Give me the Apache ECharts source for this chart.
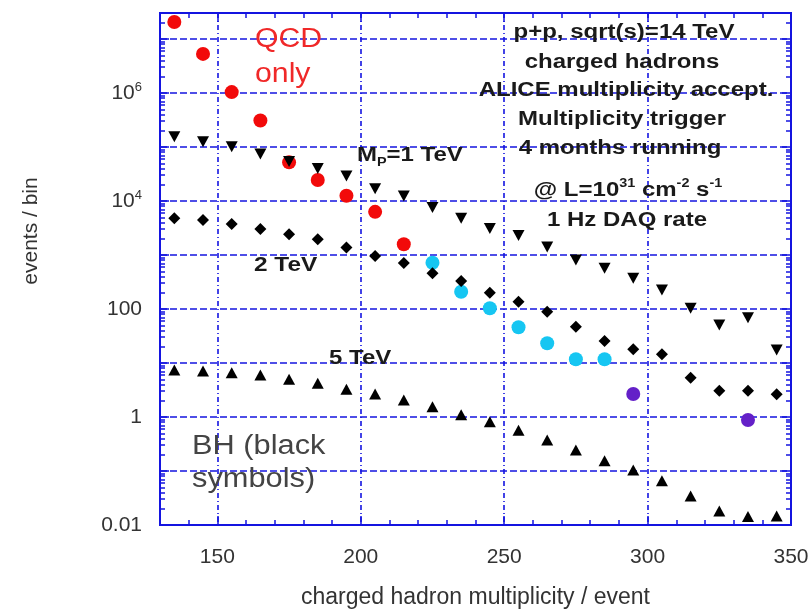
<!DOCTYPE html>
<html>
<head>
<meta charset="utf-8">
<title>events / bin vs charged hadron multiplicity</title>
<script src="https://cdn.jsdelivr.net/npm/echarts@6/dist/echarts.min.js"></script>
<style>
  html, body { margin: 0; padding: 0; background: #fff; }
  #chart { width: 811px; height: 611px; }
</style>
</head>
<body>
<div id="chart"></div>
<script>
// Bin centres of the charged hadron multiplicity histogram
const multiplicity = [135, 145, 155, 165, 175, 185, 195, 205, 215, 225, 235,
                      245, 255, 265, 275, 285, 295, 305, 315, 325, 335, 345];

// QCD background, split by colour
const qcdRedX = [135, 145, 155, 165, 175, 185, 195, 205, 215];
const qcdRed = [2.07e7, 5.3e6, 1.04e6, 3.1e5, 5.2e4, 2.45e4, 1.25e4, 6.3e3, 1.58e3];
const qcdCyanX = [225, 235, 245, 255, 265, 275, 285];
const qcdCyan = [719, 209, 103, 45.8, 23.2, 11.7, 11.7];
const qcdPurpleX = [295, 335];
const qcdPurple = [2.67, 0.88];

// Black hole signal for three Planck masses (black symbols)
const bh1TeV = [1.55e5, 1.25e5, 1.01e5, 7.4e4, 5.4e4, 4.0e4, 2.9e4, 1.69e4, 1.24e4, 7.6e3, 4.8e3,
                3.1e3, 2.3e3, 1.4e3, 807, 568, 371, 225, 103, 50.6, 69, 17.4];
const bh2TeV = [4.8e3, 4.45e3, 3.75e3, 3.03e3, 2.42e3, 1.95e3, 1.37e3, 957, 711, 458, 330,
                200, 136, 89, 47, 25.5, 17.9, 14.5, 5.35, 3.07, 3.07, 2.63];
const bh5TeV = [7.4, 7.1, 6.6, 6.0, 5.0, 4.2, 3.26, 2.67, 2.07, 1.55, 1.10,
                0.82, 0.57, 0.375, 0.245, 0.155, 0.104, 0.066, 0.0344, 0.0182, 0.0143, 0.0147];

// Axis ticks
const xMajorTicks = [150, 200, 250, 300];
const xTickLabels = [150, 200, 250, 300, 350];
const xMinorTicks = [];
for (let v = 130; v <= 350; v += 10) xMinorTicks.push(v);
const yMin = 0.01, yMax = 3.03e7;
const yMinorTicks = [];
for (let k = -2; k <= 7; k++) {
  for (let m = 2; m <= 9; m++) {
    const v = m * Math.pow(10, k);
    if (v < yMax) yMinorTicks.push(v);
  }
}

const FONT = 'Liberation Sans, Arial, sans-serif';
const BLUE = '#1414e0';
const TEXT = '#333333';
const INK = '#1a1a1a';

const pairs = (xs, ys) => xs.map((x, i) => [x, ys[i]]);

function yLabel(value) {
  const e = Math.log10(value);
  const r = Math.round(e);
  if (Math.abs(e - r) > 1e-6 || r % 2 !== 0) return '';
  if (r >= 4) return '{n|10}{s|' + r + '}';
  if (r === 2) return '100';
  if (r === 0) return '1';
  if (r === -2) return '0.01';
  return '';
}

const tickLine = { color: BLUE, width: 1.5 };

const xBase = { type: 'value', min: 130, max: 350, gridIndex: 0 };
const yBase = { type: 'log', logBase: 10, min: yMin, max: yMax, gridIndex: 0 };

// Plain text annotation placed inside the plot
function note(x, y, text, size, opts) {
  opts = opts || {};
  return {
    type: 'text', x: x, y: y, scaleX: opts.scaleX || 1, z: 50,
    style: Object.assign({
      text: text, fontSize: size, fontFamily: FONT, fontWeight: opts.bold ? 'bold' : 'normal',
      fill: opts.color || INK, align: opts.align || 'left', verticalAlign: 'middle'
    }, opts.rich ? { rich: opts.rich } : {})
  };
}

const boldRich = (size, subSize, pad) => ({
  a: { fontSize: size, fontWeight: 'bold', fontFamily: FONT, fill: INK },
  s: { fontSize: subSize, fontWeight: 'bold', fontFamily: FONT, fill: INK, padding: pad }
});

const option = {
  animation: false,
  backgroundColor: '#ffffff',
  grid: { left: 160, right: 20, top: 13, bottom: 86, show: true, outerBoundsMode: 'none',
          containLabel: false, borderColor: BLUE, borderWidth: 2, backgroundColor: 'transparent' },
  xAxis: [
    Object.assign({}, xBase, {
      position: 'bottom',
      axisLine: { show: true, lineStyle: { color: BLUE, width: 2 } },
      axisTick: { show: true, inside: true, length: 9, lineStyle: tickLine, customValues: xMajorTicks },
      axisLabel: { show: true, customValues: xTickLabels, margin: 22, fontSize: 21,
                   fontFamily: FONT, color: TEXT },
      splitLine: { show: true, lineStyle: { color: BLUE, width: 1.6, type: [5, 3, 1, 3] } },
      name: 'charged hadron multiplicity / event', nameLocation: 'middle', nameGap: 61,
      nameTextStyle: { fontSize: 23, fontFamily: FONT, color: TEXT }
    }),
    Object.assign({}, xBase, {
      position: 'bottom',
      axisLine: { show: false },
      axisTick: { show: true, inside: true, length: 5, lineStyle: tickLine, customValues: xMinorTicks },
      axisLabel: { show: false }, splitLine: { show: false }
    }),
    Object.assign({}, xBase, {
      position: 'top',
      axisLine: { show: true, lineStyle: { color: BLUE, width: 2 } },
      axisTick: { show: true, inside: true, length: 9, lineStyle: tickLine, customValues: xMajorTicks },
      axisLabel: { show: false }, splitLine: { show: false }
    }),
    Object.assign({}, xBase, {
      position: 'top',
      axisLine: { show: false },
      axisTick: { show: true, inside: true, length: 5, lineStyle: tickLine, customValues: xMinorTicks },
      axisLabel: { show: false }, splitLine: { show: false }
    })
  ],
  yAxis: [
    Object.assign({}, yBase, {
      position: 'left',
      axisLine: { show: true, lineStyle: { color: BLUE, width: 2 } },
      axisTick: { show: true, inside: true, length: 9, lineStyle: tickLine },
      axisLabel: { show: true, margin: 18, fontSize: 21, fontFamily: FONT, color: TEXT,
                   formatter: yLabel,
                   rich: { n: { fontSize: 21, fontFamily: FONT, color: TEXT },
                           s: { fontSize: 13, fontFamily: FONT, color: TEXT, padding: [0, 0, 12, 0] } } },
      splitLine: { show: true, lineStyle: { color: BLUE, width: 1.6, type: [7, 3] } }
    }),
    Object.assign({}, yBase, {
      position: 'left',
      axisLine: { show: false },
      axisTick: { show: true, inside: true, length: 5, lineStyle: tickLine, customValues: yMinorTicks },
      axisLabel: { show: false }, splitLine: { show: false }
    }),
    Object.assign({}, yBase, {
      position: 'right',
      axisLine: { show: true, lineStyle: { color: BLUE, width: 2 } },
      axisTick: { show: true, inside: true, length: 9, lineStyle: tickLine },
      axisLabel: { show: false }, splitLine: { show: false }
    }),
    Object.assign({}, yBase, {
      position: 'right',
      axisLine: { show: false },
      axisTick: { show: true, inside: true, length: 5, lineStyle: tickLine, customValues: yMinorTicks },
      axisLabel: { show: false }, splitLine: { show: false }
    })
  ],
  series: [
    { name: 'QCD', type: 'scatter', data: pairs(qcdRedX, qcdRed),
      symbol: 'circle', symbolSize: 14, itemStyle: { color: '#f20a0a', opacity: 1 } },
    { name: 'QCD high multiplicity', type: 'scatter', data: pairs(qcdCyanX, qcdCyan),
      symbol: 'circle', symbolSize: 14, itemStyle: { color: '#16c6f2', opacity: 1 } },
    { name: 'QCD tail', type: 'scatter', data: pairs(qcdPurpleX, qcdPurple),
      symbol: 'circle', symbolSize: 14, itemStyle: { color: '#6420c8', opacity: 1 } },
    { name: 'BH M_P = 1 TeV', type: 'scatter', data: pairs(multiplicity, bh1TeV),
      symbol: 'triangle', symbolRotate: 180, symbolSize: [12, 11], itemStyle: { color: '#000', opacity: 1 } },
    { name: 'BH M_P = 2 TeV', type: 'scatter', data: pairs(multiplicity, bh2TeV),
      symbol: 'diamond', symbolSize: [12, 12], itemStyle: { color: '#000', opacity: 1 } },
    { name: 'BH M_P = 5 TeV', type: 'scatter', data: pairs(multiplicity, bh5TeV),
      symbol: 'triangle', symbolSize: [12, 11], itemStyle: { color: '#000', opacity: 1 } }
  ],
  graphic: [
    { type: 'text', x: 31, y: 231, rotation: Math.PI / 2,
      style: { text: 'events / bin', fontSize: 21, fontFamily: FONT, fill: TEXT,
               align: 'center', verticalAlign: 'middle' } },
    // QCD label
    note(255, 40, 'QCD', 27, { color: '#f02828', scaleX: 1.12 }),
    note(255, 75, 'only', 27, { color: '#f02828', scaleX: 1.12 }),
    // Planck mass labels
    note(357, 155, '{a|M}{s|P}{a|=1 TeV}', 20, { scaleX: 1.2, rich: boldRich(20, 12, [16, 0, 0, 0]) }),
    note(254, 265, '2 TeV', 20, { bold: true, scaleX: 1.22 }),
    note(329, 358, '5 TeV', 20, { bold: true, scaleX: 1.2 }),
    // Symbol key
    note(192, 447, 'BH (black', 27, { color: '#444', scaleX: 1.14 }),
    note(192, 480, 'symbols)', 27, { color: '#444', scaleX: 1.14 }),
    // Run conditions
    note(624, 32, 'p+p, sqrt(s)=14 TeV', 20, { bold: true, align: 'center', scaleX: 1.2 }),
    note(622, 62, 'charged hadrons', 20, { bold: true, align: 'center', scaleX: 1.2 }),
    note(626, 90, 'ALICE multiplicity accept.', 20, { bold: true, align: 'center', scaleX: 1.2 }),
    note(622, 119, 'Multiplicity trigger', 20, { bold: true, align: 'center', scaleX: 1.2 }),
    note(620, 148, '4 months running', 20, { bold: true, align: 'center', scaleX: 1.2 }),
    note(628, 190, '{a|@ L=10}{s|31}{a| cm}{s|-2}{a| s}{s|-1}', 20,
         { align: 'center', scaleX: 1.2, rich: boldRich(20, 12, [0, 0, 12, 0]) }),
    note(627, 220, '1 Hz DAQ rate', 20, { bold: true, align: 'center', scaleX: 1.2 })
  ]
};

const chart = echarts.init(document.getElementById('chart'), null, { renderer: 'canvas' });
chart.setOption(option);
</script>
</body>
</html>
